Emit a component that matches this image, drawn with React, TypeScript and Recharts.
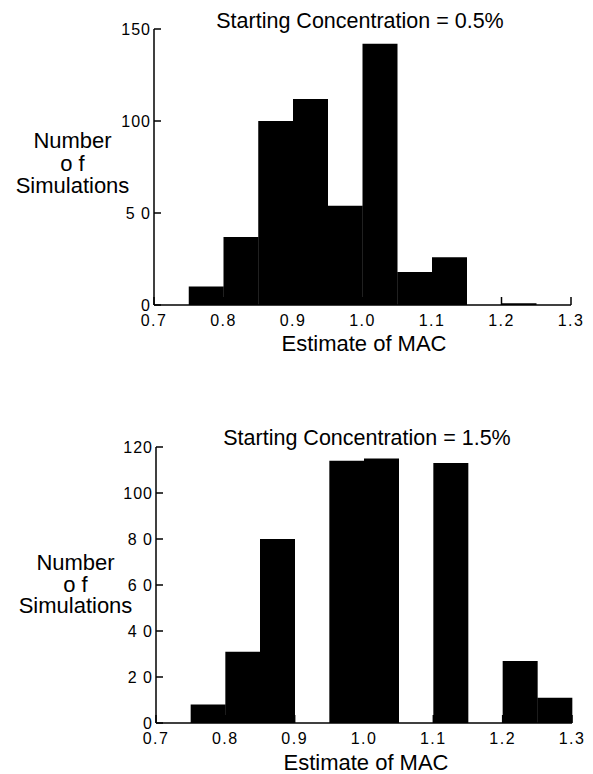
import React from "react";
import { Bar, BarChart, XAxis, YAxis } from "recharts";

// Histogram bins of the MAC estimate, 0.05 wide from 0.70 to 1.30.
const binStarts = [0.7, 0.75, 0.8, 0.85, 0.9, 0.95, 1.0, 1.05, 1.1, 1.15, 1.2, 1.25];
const countsLow = [0, 10, 37, 100, 112, 54, 142, 18, 26, 0, 1, 0];
const countsHigh = [0, 8, 31, 80, 0, 114, 115, 0, 113, 0, 27, 11];

const xTicks = [0.7, 0.8, 0.9, 1.0, 1.1, 1.2, 1.3];
const yTicksLow = [0, 50, 100, 150];
const yTicksHigh = [0, 20, 40, 60, 80, 100, 120];

const titles = ["Starting Concentration = 0.5%", "Starting Concentration = 1.5%"];
const xTitle = "Estimate of MAC";
const yTitle = ["Number", "o f", "Simulations"];

const FONT = "'Liberation Sans', Arial, Helvetica, sans-serif";
const TICK_GAP = 10;
const LINE_W = 1.5;

function toRows(counts: number[]) {
  return binStarts.map((s, i) => ({ bin: s.toFixed(2), mid: s + 0.025, count: counts[i] }));
}

// two-digit values are typeset with a gap in the original ("5 0")
function fmtY(v: number) {
  const s = String(v);
  return s.length === 2 ? s.split("").join(" ") : s;
}

// ticks point inward, label sits outside
function YTick(props: any) {
  const { x, y, payload } = props;
  const axisX = x + 3;
  return (
    <g>
      <line x1={axisX} x2={axisX + 7} y1={y} y2={y} stroke="#000" strokeWidth={LINE_W} />
      <text x={x} y={y} dy="0.36em" textAnchor="end" fontSize={16} fontFamily={FONT} letterSpacing={1} fill="#000">
        {fmtY(payload.value)}
      </text>
    </g>
  );
}

function XTick(props: any) {
  const { x, y, payload } = props;
  const axisY = y - TICK_GAP;
  return (
    <g>
      <line x1={x} x2={x} y1={axisY} y2={axisY - 8} stroke="#000" strokeWidth={LINE_W} />
      <text x={x} y={y} dy="0.71em" textAnchor="middle" fontSize={16} fontFamily={FONT} letterSpacing={1.5} fill="#000">
        {payload.value.toFixed(1)}
      </text>
    </g>
  );
}

function Histogram({
  counts,
  yMax,
  yTicks,
  height,
  margin,
}: {
  counts: number[];
  yMax: number;
  yTicks: number[];
  height: number;
  margin: { top: number; right: number; bottom: number; left: number };
}) {
  return (
    <BarChart width={593} height={height} data={toRows(counts)} margin={margin} barCategoryGap={0} barGap={0}>
      <XAxis xAxisId="bins" dataKey="bin" hide height={0} />
      <XAxis
        xAxisId="num"
        dataKey="mid"
        type="number"
        domain={[0.7, 1.3]}
        ticks={xTicks}
        allowDataOverflow
        height={30}
        tickSize={0}
        tickMargin={TICK_GAP}
        tick={<XTick />}
        stroke="#000"
        axisLine={{ stroke: "#000", strokeWidth: LINE_W }}
        tickLine={false}
      />
      <YAxis
        domain={[0, yMax]}
        ticks={yTicks}
        width={60}
        tickSize={0}
        tickMargin={3}
        tick={<YTick />}
        stroke="#000"
        axisLine={{ stroke: "#000", strokeWidth: LINE_W }}
        tickLine={false}
      />
      <Bar xAxisId="bins" dataKey="count" fill="#000" isAnimationActive={false} />
    </BarChart>
  );
}

function Labels() {
  const text = { fontFamily: FONT, fill: "#000" } as const;
  const yLabel = (cx: number, bases: number[]) =>
    yTitle.map((t, i) => (
      <text key={t} x={cx} y={bases[i]} textAnchor="middle" fontSize={22} {...text}>
        {t}
      </text>
    ));
  return (
    <svg width={593} height={774} style={{ position: "absolute", left: 0, top: 0, pointerEvents: "none" }}>
      <text x={360} y={28} textAnchor="middle" fontSize={21.5} {...text}>{titles[0]}</text>
      <text x={367} y={445} textAnchor="middle" fontSize={21.5} {...text}>{titles[1]}</text>
      <text x={364} y={351} textAnchor="middle" fontSize={22} {...text}>{xTitle}</text>
      <text x={366} y={770} textAnchor="middle" fontSize={22} {...text}>{xTitle}</text>
      {yLabel(72.5, [148, 171, 192.5])}
      {yLabel(75.5, [570, 591.5, 612.5])}
    </svg>
  );
}

export default function App() {
  return (
    <div style={{ position: "absolute", left: 0, top: 0, width: 593, height: 774, background: "#fff" }}>
      <div style={{ position: "absolute", left: 0, top: 0 }}>
        <Histogram counts={countsLow} yMax={150} yTicks={yTicksLow} height={380} margin={{ top: 29, right: 22, bottom: 45, left: 94 }} />
      </div>
      <div style={{ position: "absolute", left: 0, top: 390 }}>
        <Histogram counts={countsHigh} yMax={120} yTicks={yTicksHigh} height={384} margin={{ top: 57, right: 21, bottom: 21, left: 96 }} />
      </div>
      <Labels />
    </div>
  );
}
